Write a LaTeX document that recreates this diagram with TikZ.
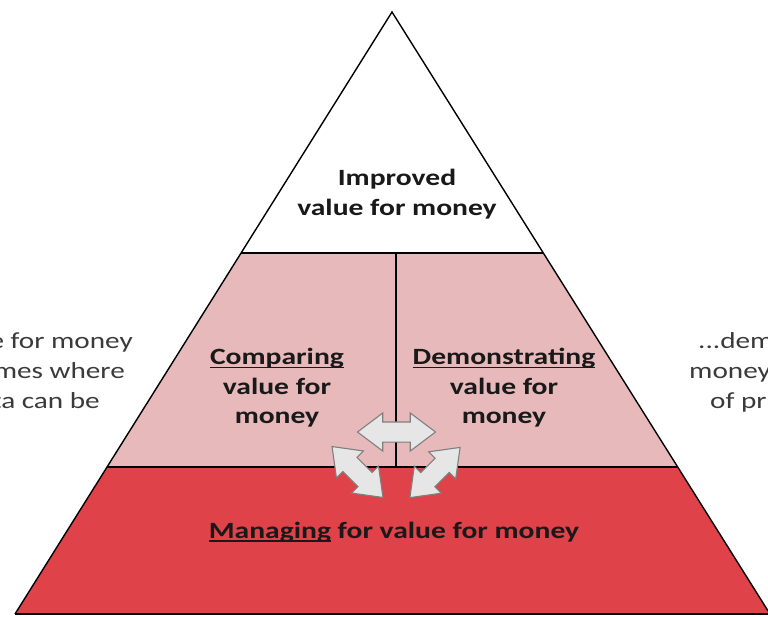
\documentclass[tikz,border=0pt]{standalone}
\usepackage{fontspec}
\setmainfont{Carlito}[FakeStretch=1.27]
\usetikzlibrary{shapes.arrows}
\definecolor{tierpink}{HTML}{E7B9BA}
\definecolor{tierred}{HTML}{DF4248}
\definecolor{arrowfill}{HTML}{E6E6E6}
\definecolor{arrowline}{HTML}{7F7F7F}
\definecolor{sidegray}{HTML}{3A3A3A}
% thick underline for the key words
\newsavebox\ulbox
\newcommand\ulword[1]{\sbox\ulbox{#1}\rlap{\usebox\ulbox}\rule[-3.5pt]{\wd\ulbox}{1.5pt}}
\begin{document}
\begin{tikzpicture}[x=1pt,y=-1pt,
  edge/.style={draw=black, line width=1.4pt, line join=miter},
  lbl/.style={font=\fontsize{23.3}{29.5}\selectfont\bfseries, align=center, text=black!90, inner sep=0pt},
  side/.style={font=\fontsize{23}{29.5}\selectfont, text=sidegray, inner sep=0pt},
  swaparrow/.style={shape=double arrow, draw=arrowline, fill=arrowfill, line width=1.1pt,
    inner sep=9.5pt, double arrow head extend=9pt, double arrow tip angle=74,
    minimum height=#1}]
\useasboundingbox (0,0) rectangle (768,616);
\clip (0,0) rectangle (768,616);

% pyramid corners
\coordinate (apex) at (392,12);
\coordinate (L1) at (241,253);  \coordinate (R1) at (543,253);
\coordinate (L2) at (107,467);  \coordinate (R2) at (677,467);
\coordinate (L3) at (15,614);   \coordinate (R3) at (770,614);
\coordinate (divtop) at (396,253);
\coordinate (divbot) at (396,467);

% tiers
\fill[white]    (apex) -- (R1) -- (L1) -- cycle;
\fill[tierpink] (L1) -- (R1) -- (R2) -- (L2) -- cycle;
\fill[tierred]  (L2) -- (R2) -- (R3) -- (L3) -- cycle;

% outlines
\draw[edge] (L3) -- (apex) -- (R3);
\draw[edge] (L1) -- (R1);
\draw[edge] (L2) -- (R2);
\draw[edge] (L3) -- (R3);
\draw[edge] (divtop) -- (divbot);

% tier labels
\node[lbl] (top) at (397,194) {Improved\\value for money};
\node[lbl] (cmp) at (277,388) {\ulword{Comparing}\\value for\\money};
\node[lbl] (dem) at (504,388) {\ulword{Demonstrating}\\value for\\money};
\node[lbl, anchor=base] (mng) at (394,538) {\ulword{Managing} for value for money};

% arrows between the activities
\node[swaparrow=78] (hswap) at (396.5,432) {};
\node[swaparrow=72, rotate=-45] (lswap) at (357.5,472) {};
\node[swaparrow=71, rotate=45] (rswap) at (435,472.5) {};

% side notes
\node[side, anchor=base east] (l1) at (133,348) {e for money};
\node[side, anchor=base east] (l2) at (125,378) {mes where};
\node[side, anchor=base east] (l3) at (100,408) {ta can be};
\node[side, anchor=base west] (r1) at (698,348) {...dem};
\node[side, anchor=base west] (r2) at (689,378) {money};
\node[side, anchor=base west] (r3) at (710,408) {of pr};
\end{tikzpicture}
\end{document}
